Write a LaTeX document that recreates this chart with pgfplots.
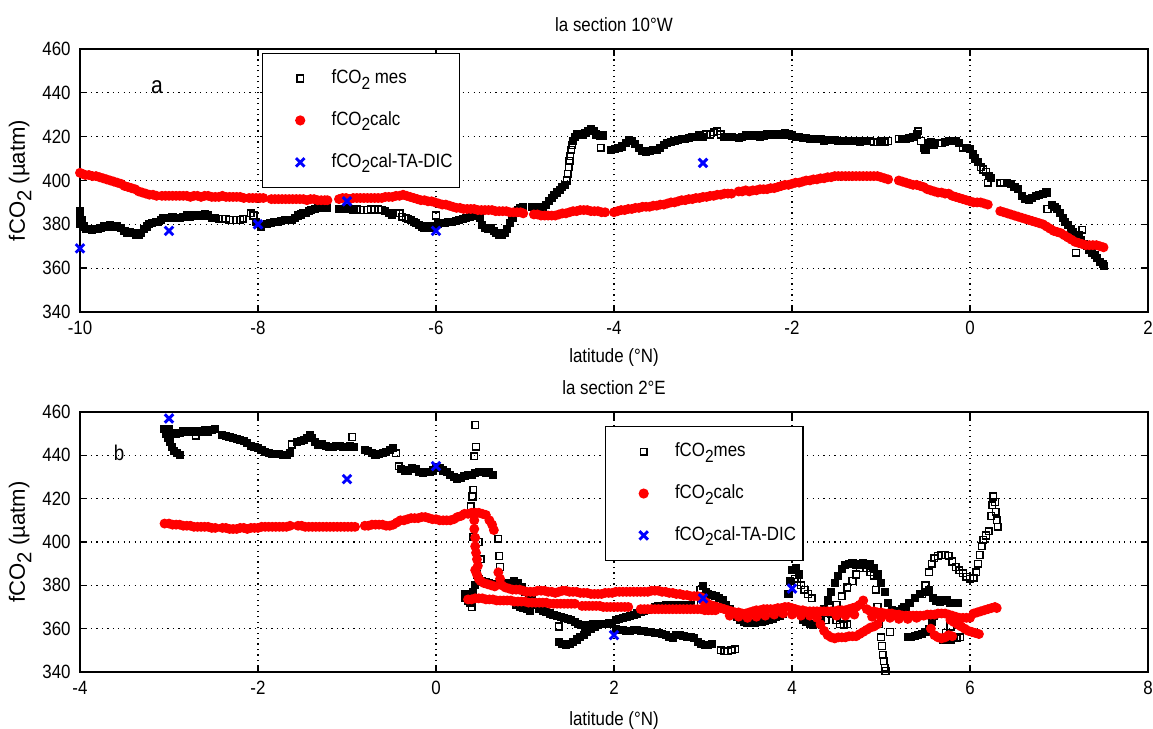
\documentclass[border=0pt]{standalone}
\usepackage{fontspec}
\setmainfont{Liberation Sans}[FakeStretch=0.88]
\newfontfamily\yfont{Liberation Sans}
\usepackage{pgfplots}
\pgfplotsset{compat=1.18}
\newcommand{\sub}[1]{\raisebox{-0.55ex}{\fontsize{6.6}{6.6}\selectfont #1}}
\newcommand{\ysub}[1]{\raisebox{-0.55ex}{\fontsize{7.6}{7.6}\selectfont #1}}
\pgfplotsset{
 mystyle/.style={
  scale only axis, width=400.5pt,
  ymin=340, ymax=460, ytick={340,360,...,460},
  grid=major,
  major grid style={black, line width=0.45pt, dash pattern=on 0.45pt off 1.6pt},
  axis line style={line width=0.6pt},
  tick style={black, line width=0.5pt},
  major tick length=2.5pt,
  tick align=inside,
  tick label style={font=\fontsize{7.2}{8}\selectfont},
  /pgf/number format/assume math mode=true,
  label style={font=\fontsize{7.2}{8}\selectfont},
  title style={font=\fontsize{7.2}{8}\selectfont},
  ylabel style={font=\yfont\fontsize{8.3}{9}\selectfont},
  legend cell align=left,
  legend image code/.code={\path (0pt,0pt) (19pt,0pt); \draw[##1] plot coordinates {(11pt,0pt)};},
  legend style={draw=black, line width=0.5pt, font=\fontsize{7.2}{8}\selectfont,
    row sep=5pt, column sep=1.5pt, inner xsep=3pt, inner ysep=4pt},
 },
 mes/.style={only marks, mark=square, mark size=1.25pt, black, mark options={line width=0.55pt}},
 mesd/.style={only marks, mark=square*, mark size=1.25pt, black, mark options={line width=0.55pt, fill=black}, forget plot},
 calc/.style={only marks, mark=*, mark size=1.65pt, red, mark options={draw=red, fill=red}},
 tadic/.style={only marks, mark=x, mark size=2.25pt, blue, mark options={line width=1.1pt}},
}
\begin{document}
\begin{tikzpicture}
% ---------------- top panel ----------------
\begin{axis}[mystyle, at={(30pt,156.375pt)}, anchor=south west, height=98.625pt,
  xmin=-10, xmax=2, xtick={-10,-8,...,2},
  title={la section 10°W},
  title style={at={(axis description cs:0.5,1.091)}, anchor=center, yshift=-6pt},
  xlabel={latitude (°N)},
  xlabel style={at={(axis description cs:0.5,-0.172)}, anchor=center},
  ylabel={fCO\ysub{2} (µatm)},
  ylabel style={at={(axis description cs:-0.056,0.5)}, anchor=center},
  legend style={at={(axis description cs:0.170,0.985)}, anchor=north west},
]
\addplot[mes] coordinates {
(-8.44,382.5) (-8.4,382.5) (-8.36,382.5) (-8.32,382) (-8.28,382) (-8.24,382) (-8.2,382) (-8.17,382.5) (-8.08,385) (-8.05,384)
(-6.89,387) (-6.85,386.5) (-6.81,386.5) (-6.77,386.5) (-6.73,387) (-6.69,386.5) (-6.65,387) (-6.61,386.5) (-6.45,385) (-6.41,385) (-6.38,383.5) (-6.34,383) (-6.31,382.5) (-6.0,384)
(-4.53,400) (-4.52,403) (-4.51,406) (-4.5,409) (-4.49,411) (-4.48,414) (-4.47,416) (-4.15,415)
(-2.96,421) (-2.92,421) (-2.88,422) (-2.84,422.5) (-2.8,421) (-1.12,418) (-1.08,417.5) (-1.04,417.5) (-0.96,417.5) (-0.92,418)
(-0.8,419) (-0.58,422.5) (-0.55,418) (-0.5,414) (-0.36,417) (-0.32,417) (-0.08,415) (0.12,406) (0.15,405) (0.18,404) (0.2,399) (0.34,399) (0.38,399) (0.87,387) (1.19,367) (1.26,377.5)
};
\addlegendentry{\makebox[43pt][l]{fCO\sub{2} mes}}
\addplot[mesd] coordinates {
(-10,386) (-10,383) (-10,380) (-9.98,382) (-9.96,379) (-9.93,378) (-9.9,378) (-9.87,377.5) (-9.84,378) (-9.8,378) (-9.77,378.5) (-9.73,379) (-9.7,379) (-9.66,379.5) (-9.62,379) (-9.58,379) (-9.54,378.5) (-9.5,377) (-9.47,376) (-9.44,376.5) (-9.4,376) (-9.37,375) (-9.34,375) (-9.31,376) (-9.28,378) (-9.25,379) (-9.22,380) (-9.19,380.5) (-9.15,381) (-9.12,381) (-9.09,382) (-9.07,383) (-9.04,383) (-9.0,383) (-8.96,383.5) (-8.92,383) (-8.88,383) (-8.84,383.5) (-8.8,384) (-8.76,383.5) (-8.72,384) (-8.68,384) (-8.64,384) (-8.6,384.5) (-8.56,384) (-8.52,383) (-8.48,383)
(-8.02,381) (-8.0,380) (-7.97,379)
(-7.9,380) (-7.86,380.5) (-7.82,381) (-7.78,381) (-7.74,381.5) (-7.7,382) (-7.66,382) (-7.62,382) (-7.58,383) (-7.55,384) (-7.52,384.5) (-7.49,385) (-7.46,385) (-7.43,386) (-7.4,386.5) (-7.36,387) (-7.33,387.5) (-7.3,387.5) (-7.26,387.5) (-7.23,387.5)
(-7.09,387) (-7.05,387) (-7.01,387.5) (-6.97,387) (-6.93,386.5) (-6.57,386) (-6.53,385) (-6.49,384.5) (-6.28,382) (-6.25,381) (-6.22,380.5) (-6.19,379.5) (-6.16,379) (-6.13,378.5) (-6.1,379) (-6.06,378.5) (-6.02,379) (-5.98,380) (-5.94,380.5) (-5.9,380.5) (-5.86,381) (-5.82,381) (-5.78,381.5) (-5.74,382) (-5.7,382.5) (-5.66,383) (-5.62,383.5) (-5.58,384) (-5.54,385) (-5.51,383) (-5.48,379.5) (-5.45,378.5) (-5.42,378) (-5.38,378.5) (-5.35,377) (-5.32,376) (-5.29,375) (-5.26,375) (-5.23,376) (-5.2,378) (-5.17,380.5) (-5.14,383) (-5.11,385) (-5.08,386.5) (-5.05,387.5) (-5.02,388)
(-4.92,388) (-4.88,388) (-4.84,388) (-4.8,388) (-4.76,389) (-4.73,390.5) (-4.7,392) (-4.67,393.5) (-4.64,394.5) (-4.61,395.5) (-4.58,397) (-4.55,398) (-4.46,418) (-4.44,420) (-4.41,421) (-4.38,421) (-4.35,421) (-4.32,421.5) (-4.29,422.5) (-4.26,423.5) (-4.23,422.5) (-4.2,421) (-4.16,420.5) (-4.13,420.5)
(-4.03,414) (-3.99,414.5) (-3.95,415) (-3.91,415.5) (-3.87,417) (-3.83,418.5) (-3.8,418) (-3.76,416.5) (-3.72,415) (-3.68,413.5) (-3.64,413) (-3.6,413.5) (-3.56,414) (-3.52,414) (-3.48,415) (-3.44,416) (-3.4,417) (-3.36,417.5) (-3.32,418) (-3.28,418.5) (-3.24,419) (-3.2,419) (-3.16,419.5) (-3.12,420) (-3.08,420) (-3.04,420.5) (-3.0,420) (-2.76,420) (-2.72,420) (-2.68,420)
(-2.6,419.5) (-2.56,420) (-2.52,420.5) (-2.48,420.5) (-2.44,420.5) (-2.4,420.5) (-2.36,420) (-2.32,420.5) (-2.28,421) (-2.24,421) (-2.2,421) (-2.16,421) (-2.12,421) (-2.08,421.5) (-2.04,421) (-2.0,420.5) (-1.96,420) (-1.92,420) (-1.88,419.5) (-1.84,419.5) (-1.8,419) (-1.76,419) (-1.72,419) (-1.68,419) (-1.64,418) (-1.6,418.5) (-1.56,418.5) (-1.52,418.5) (-1.48,418) (-1.44,418) (-1.4,418) (-1.36,418) (-1.32,418) (-1.28,418) (-1.24,417.5) (-1.2,418) (-1.16,418) (-1.0,418)
(-0.76,419) (-0.72,419) (-0.68,419.5) (-0.64,420) (-0.6,421) (-0.52,415) (-0.47,417) (-0.44,417.5) (-0.4,416) (-0.28,417.5) (-0.24,418) (-0.2,418) (-0.16,418) (-0.12,417) (-0.04,415) (0.0,414.5) (0.03,412) (0.06,410) (0.09,408.5) (0.21,402) (0.24,401)
(0.42,399) (0.46,398.5) (0.5,397) (0.54,396) (0.58,393) (0.62,391.5) (0.66,391) (0.7,392) (0.74,393) (0.78,393.5) (0.82,394) (0.86,394.5) (0.92,389) (0.95,388) (0.98,387) (1.01,385) (1.04,383) (1.07,381) (1.1,379.5) (1.13,378) (1.16,376.5) (1.22,375) (1.25,373) (1.28,371) (1.31,370) (1.34,368.5) (1.37,367) (1.4,366) (1.43,364.5) (1.46,363) (1.49,362) (1.51,361)
};
\addplot[calc] coordinates {
(-10,403.5) (-9.97,403) (-9.94,402.5) (-9.9,402.5) (-9.86,402) (-9.82,402) (-9.78,401.5) (-9.74,401) (-9.7,400.5) (-9.66,400) (-9.62,399.5) (-9.58,399) (-9.54,398.5) (-9.5,397.5) (-9.46,397) (-9.42,396.5) (-9.38,396) (-9.34,395) (-9.3,394.5) (-9.26,394) (-9.22,393.5) (-9.18,393.5) (-9.14,393) (-9.08,393) (-9.04,393) (-9.0,393) (-8.96,393) (-8.92,393) (-8.88,393) (-8.84,393) (-8.8,393) (-8.76,392.5) (-8.72,393) (-8.68,393) (-8.64,392.5) (-8.6,393) (-8.56,393) (-8.52,392.5) (-8.48,392.5) (-8.44,392.5) (-8.4,393) (-8.36,392.5) (-8.32,392.5) (-8.28,392.5) (-8.24,392.5) (-8.2,392.5) (-8.16,392)
(-8.1,392) (-8.06,392) (-8.02,392) (-7.98,392) (-7.94,392)
(-7.85,391.5) (-7.81,391.5) (-7.77,391.5) (-7.73,391.5) (-7.69,391.5) (-7.65,391.5) (-7.61,391.5) (-7.57,391.5) (-7.53,391.5) (-7.49,391.5) (-7.45,391) (-7.41,391.5) (-7.37,391.5) (-7.33,391) (-7.29,391) (-7.25,391) (-7.22,391)
(-7.09,391.5) (-7.05,392) (-7.01,392) (-6.97,391.5) (-6.93,392) (-6.89,392) (-6.85,392) (-6.81,392) (-6.77,392) (-6.73,392) (-6.69,392) (-6.65,392) (-6.61,392) (-6.57,392.5) (-6.53,392.5) (-6.49,392.5) (-6.45,393) (-6.41,393) (-6.37,393.5) (-6.33,393) (-6.29,392.5) (-6.25,392) (-6.21,391.5) (-6.17,391) (-6.13,391) (-6.09,390.5) (-6.05,390.5) (-6.01,390) (-5.97,389.5) (-5.93,389) (-5.89,389) (-5.85,388.5) (-5.81,388) (-5.77,387.5) (-5.73,387.5) (-5.69,387) (-5.65,387) (-5.61,387) (-5.57,387) (-5.53,386.5) (-5.49,386.5) (-5.45,386.5) (-5.41,386.5) (-5.37,386.5) (-5.33,386) (-5.29,386) (-5.25,386) (-5.21,386) (-5.17,385.5) (-5.13,385.5) (-5.09,385.5) (-5.05,385.5) (-5.02,385)
(-4.9,384.5) (-4.86,384.5) (-4.82,384) (-4.78,384) (-4.74,384) (-4.7,384) (-4.66,384) (-4.62,384.5) (-4.58,385) (-4.54,385) (-4.5,385.5) (-4.46,386) (-4.42,386) (-4.38,386.5) (-4.34,386.5) (-4.3,386.5) (-4.26,386) (-4.22,386) (-4.18,386) (-4.14,385.5) (-4.1,385.5)
(-4.0,385.5) (-3.96,386) (-3.92,386.5) (-3.88,386.5) (-3.84,387) (-3.8,387) (-3.76,387.5) (-3.72,387.5) (-3.68,388) (-3.64,388) (-3.6,388) (-3.56,388.5) (-3.52,388.5) (-3.48,389) (-3.44,389) (-3.4,389.5) (-3.36,390) (-3.32,390) (-3.28,390.5) (-3.24,391) (-3.2,391) (-3.16,391.5) (-3.12,391.5) (-3.08,392) (-3.04,392) (-3.0,392.5) (-2.96,392.5) (-2.92,393) (-2.88,393) (-2.84,393.5) (-2.8,393.5) (-2.76,394) (-2.72,394) (-2.68,394)
(-2.6,395) (-2.56,395) (-2.52,395.5) (-2.48,395) (-2.44,395.5) (-2.4,395.5) (-2.36,396) (-2.32,396) (-2.28,396) (-2.24,396.5) (-2.2,396.5) (-2.16,397) (-2.12,397.5) (-2.08,398) (-2.04,398) (-2.0,398.5) (-1.96,399) (-1.92,399) (-1.88,399.5) (-1.84,400) (-1.8,400) (-1.76,400.5) (-1.72,400.5) (-1.68,401) (-1.64,401) (-1.6,401.5) (-1.56,401.5) (-1.52,402) (-1.48,402) (-1.44,402) (-1.4,402) (-1.36,402) (-1.32,402) (-1.28,402) (-1.24,402) (-1.2,402) (-1.16,402) (-1.12,402) (-1.08,402) (-1.04,402) (-1.0,401.5) (-0.96,401) (-0.92,400.5)
(-0.8,400) (-0.76,399.5) (-0.72,399) (-0.68,398.5) (-0.64,398) (-0.6,398) (-0.56,397.5) (-0.52,397) (-0.48,396) (-0.44,395.5) (-0.4,395) (-0.36,394.5) (-0.32,394.5) (-0.28,394) (-0.24,394) (-0.2,393) (-0.16,392.5) (-0.12,392) (-0.08,391.5) (-0.04,391) (0.0,390.5) (0.04,390) (0.08,390) (0.12,390) (0.16,389.5) (0.2,389)
(0.34,386) (0.38,385.5) (0.42,385) (0.46,384.5) (0.5,384) (0.54,383.5) (0.58,383) (0.62,382.5) (0.66,382) (0.7,381.5) (0.74,381) (0.78,380.5) (0.82,380) (0.86,379) (0.9,378) (0.94,377) (0.98,376.5) (1.02,376) (1.06,375) (1.1,374) (1.14,373) (1.18,372) (1.22,371.5) (1.26,371) (1.3,370.5) (1.34,370.5) (1.38,370.5) (1.42,370.5) (1.46,370) (1.5,369.5)
};
\addlegendentry{\makebox[43pt][l]{fCO\sub{2}calc}}
\addplot[tadic] coordinates {(-10,369) (-9,377) (-8,380) (-7,390.5) (-6,377) (-3,408)};
\addlegendentry{\makebox[43pt][l]{fCO\sub{2}cal-TA-DIC}}
\node[font=\fontsize{9}{10}\selectfont] at (axis description cs:0.072,0.855) {a};
\end{axis}
% ---------------- bottom panel ----------------
\begin{axis}[mystyle, at={(30pt,21.375pt)}, anchor=south west, height=97.5pt,
  xmin=-4, xmax=8, xtick={-4,-2,...,8},
  title={la section 2°E},
  title style={at={(axis description cs:0.5,1.092)}, anchor=center, yshift=-6pt},
  xlabel={latitude (°N)},
  xlabel style={at={(axis description cs:0.5,-0.188)}, anchor=center},
  ylabel={fCO\ysub{2} (µatm)},
  ylabel style={at={(axis description cs:-0.056,0.5)}, anchor=center},
  legend style={at={(axis description cs:0.4916,0.946)}, anchor=north west},
]
\addplot[mes] coordinates {
(-2.7,449) (-1.62,445) (-0.94,448.5) (-0.45,441) (-0.42,435)
(0.44,454) (0.45,444) (0.43,439.5) (0.42,424) (0.41,421) (0.39,416.5) (0.42,402.5) (0.48,400) (0.5,392) (0.7,401.5) (0.71,393.5) (0.72,388.5) (0.4,370) (1.38,361) (0.46,385) (0.48,383)
(3.2,350) (3.24,349.5) (3.28,349.5) (3.32,350) (3.36,350.5)
(2.9,372) (2.94,375) (2.97,378)
(4.03,383) (4.06,381.5) (4.1,380) (4.14,378) (4.18,376) (4.22,374)
(4.38,364) (4.44,367) (4.5,371) (4.56,375) (4.62,379) (4.68,382) (4.72,385) (4.76,388) (4.8,389.5) (4.84,388) (4.88,386) (4.92,384.5) (4.94,378) (4.96,370) (4.98,362) (5.0,356) (5.01,352) (5.02,348) (5.03,345) (5.04,342) (5.05,340.5)
(4.5,364) (4.54,362) (4.58,361.5) (4.62,362) (5.1,358.5)
(5.46,376) (5.5,380) (5.54,386) (5.57,390) (5.6,392.5) (5.64,393.5) (5.68,394) (5.72,394) (5.76,393.5) (5.8,391) (5.84,388.5) (5.88,387) (5.92,385.5) (5.96,384) (6.0,383) (6.04,383.5) (6.07,386) (6.09,390) (6.11,394) (6.13,398) (6.15,401) (6.18,403) (6.21,405) (6.24,412) (6.25,417) (6.26,421) (6.28,418.5) (6.29,414) (6.3,410) (6.31,407)
(5.73,358) (5.77,356.5) (5.81,355.5) (5.85,355.5) (5.89,356) (5.78,361)
};
\addlegendentry{\makebox[43pt][l]{fCO\sub{2}mes}}
\addplot[mesd] coordinates {
(-3.05,452) (-3.03,450) (-3.01,448) (-2.99,446) (-2.97,444) (-2.94,442) (-2.91,441) (-2.88,440) (-3.0,452) (-2.96,450.5) (-2.92,450) (-2.88,450.5) (-2.84,451) (-2.8,451) (-2.76,451) (-2.72,451) (-2.68,451) (-2.64,451) (-2.6,451.5) (-2.56,451) (-2.52,451.5) (-2.48,452)
(-2.4,449.5) (-2.36,449) (-2.32,448.5) (-2.28,448) (-2.24,447.5) (-2.2,447) (-2.16,446.5) (-2.12,445.5) (-2.08,444.5) (-2.04,444) (-2.0,443.5) (-1.96,442.5) (-1.92,441.5) (-1.88,441) (-1.84,440.5) (-1.8,440.5) (-1.76,440.5) (-1.72,440) (-1.68,440) (-1.64,441)
(-1.56,446) (-1.52,446.5) (-1.48,447) (-1.45,448) (-1.42,449.5) (-1.39,448) (-1.36,446) (-1.32,445) (-1.28,445) (-1.24,444.5) (-1.2,444) (-1.16,444) (-1.12,444.5) (-1.08,444.5) (-1.04,444) (-1.0,444) (-0.97,444.5) (-0.92,444)
(-0.8,442.5) (-0.76,442) (-0.72,441) (-0.68,440) (-0.64,440.5) (-0.6,441) (-0.56,441.5) (-0.52,442.5) (-0.48,443.5)
(-0.39,433.5) (-0.35,433) (-0.31,433) (-0.27,434) (-0.23,433.5) (-0.19,432.5) (-0.15,432) (-0.11,432.5) (-0.07,432.5) (-0.03,433) (0.0,434.5) (0.04,434) (0.08,433) (0.12,432.5) (0.16,431) (0.2,430) (0.24,429) (0.28,429.5) (0.32,430.5) (0.36,431) (0.4,431) (0.44,432) (0.48,432.5) (0.52,432.5) (0.56,432) (0.6,432.5) (0.64,431)
(0.33,376) (0.33,374) (0.36,373) (0.38,372) (0.4,375) (0.42,377) (0.44,380) (0.52,382) (0.56,381.5) (0.6,381) (0.64,380.5) (0.68,380) (0.72,380) (0.76,380) (0.8,381) (0.84,381) (0.88,382) (0.92,381) (0.96,379) (1.0,377) (1.04,375) (1.08,373) (1.12,371) (1.16,369) (1.2,368) (1.24,367.5) (1.28,367) (1.32,366.5) (1.36,366) (1.4,365.5) (1.44,365) (1.48,364.5) (1.52,364)
(0.9,371) (0.94,370) (0.98,369.5) (1.02,369) (1.06,368)
(1.38,354) (1.42,353) (1.46,352.5) (1.5,353) (1.54,354) (1.58,355) (1.62,356) (1.66,357) (1.7,358.5) (1.74,360) (1.78,361) (1.82,361.5) (1.86,362) (1.9,362) (1.94,362.5) (1.98,362)
(1.56,363) (1.6,362) (1.64,361.5) (1.68,361) (1.72,361.5) (1.76,362)
(2.02,364) (2.06,364.5) (2.1,365) (2.14,365.5) (2.18,366) (2.22,366.5) (2.26,367) (2.3,367.5) (2.34,368) (2.38,368.5) (2.42,369) (2.46,370) (2.5,370.5) (2.54,370.5) (2.58,371) (2.62,371) (2.66,371) (2.7,371) (2.74,370.5) (2.78,371) (2.82,371) (2.86,371) (3.0,379.5) (3.03,377) (3.06,376) (3.1,375.5) (3.14,375) (3.18,374) (3.22,373) (3.26,371) (3.3,369) (3.34,367) (3.38,365.5) (3.42,364) (3.46,363) (3.5,362.5) (3.54,362.5) (3.58,362.5) (3.62,363) (3.66,363) (3.7,363.5) (3.74,364) (3.78,364.5) (3.82,365.5) (3.86,366) (3.9,367) (3.93,370) (3.96,376) (3.98,382) (4.0,387) (4.04,388) (4.08,385)
(4.12,364) (4.16,363) (4.2,362) (4.24,361.5) (4.28,362) (4.32,365) (4.36,369) (4.4,373) (4.44,377) (4.48,381) (4.52,384.5) (4.56,387.5) (4.6,389.5) (4.64,390) (4.68,390.5) (4.72,389.5) (4.76,390) (4.8,390.5) (4.84,390) (4.88,390) (4.92,388) (4.96,385) (5.0,381) (5.04,377) (5.08,372) (5.12,368.5) (5.16,367) (5.2,368) (5.24,369) (5.28,370)
(5.3,356) (5.34,356) (5.38,356.5) (5.42,357) (5.46,357.5) (5.5,358.5) (5.54,360) (5.57,363) (5.6,366)
(5.14,366) (5.2,368) (5.26,370) (5.32,372) (5.38,374) (5.44,376) (5.5,377) (5.54,378) (5.58,374) (5.62,373) (5.66,372.5) (5.7,373) (5.74,373) (5.78,372) (5.82,372) (5.86,372)
(5.7,355) (5.74,355) (5.78,355) (5.82,355.5)
(2.02,360) (2.06,359.5) (2.1,359.5) (2.14,359) (2.18,359) (2.22,359.5) (2.26,359.5) (2.3,359) (2.34,359) (2.38,358.5) (2.42,358.5) (2.46,358) (2.5,358) (2.54,357.5) (2.58,357) (2.62,356) (2.66,355.5) (2.7,357) (2.74,357) (2.78,356.5) (2.82,356) (2.86,356) (2.9,355.5) (2.94,354) (2.98,353) (3.02,352.5) (3.06,352.5) (3.1,353)
};
\addplot[calc] coordinates {
(-3.05,408.5) (-3.0,408.5) (-2.96,408) (-2.92,408) (-2.88,408) (-2.84,407.5) (-2.8,407.5) (-2.76,407.5) (-2.72,407) (-2.68,407) (-2.64,407) (-2.6,407) (-2.56,407) (-2.52,406.5) (-2.48,406.5)
(-2.4,406.5) (-2.36,406.5) (-2.32,406) (-2.28,406) (-2.24,406) (-2.2,406.5) (-2.16,406.5) (-2.12,406) (-2.08,406.5) (-2.04,406.5) (-2.0,406.5) (-1.96,407) (-1.92,407) (-1.88,407) (-1.84,407) (-1.8,407) (-1.76,407) (-1.72,407) (-1.68,407) (-1.64,407.5)
(-1.55,407.5) (-1.51,407.5) (-1.47,407) (-1.43,407) (-1.39,407) (-1.35,407) (-1.31,407) (-1.27,407) (-1.23,407) (-1.19,407) (-1.15,407) (-1.11,407) (-1.07,407) (-1.03,407) (-0.99,407) (-0.95,407) (-0.91,407)
(-0.8,407.5) (-0.76,407.5) (-0.72,408) (-0.68,408) (-0.64,408) (-0.6,408) (-0.56,407.5) (-0.52,407.5) (-0.48,408) (-0.44,409) (-0.4,410) (-0.36,410) (-0.32,410.5) (-0.28,411) (-0.24,411) (-0.2,411) (-0.16,411.5) (-0.12,411.5) (-0.08,411) (-0.04,410.5) (0.0,410.5) (0.04,410) (0.08,410) (0.12,410) (0.16,410) (0.2,410.5) (0.24,411.5) (0.28,412) (0.32,413) (0.36,413) (0.4,413.5) (0.44,413.5) (0.48,413.5) (0.52,413) (0.56,412.5) (0.6,410) (0.63,408) (0.65,405.5)
(0.43,410) (0.43,406) (0.44,402) (0.44,398) (0.45,395) (0.46,392) (0.47,389)
(0.44,387) (0.46,385) (0.48,383) (0.5,382) (0.54,381) (0.58,380.5) (0.62,380) (0.66,379.5) (0.7,386) (0.72,383) (0.74,380) (0.78,379) (0.82,378.5) (0.86,378) (0.9,378) (0.94,378) (0.98,377.5) (1.02,377) (1.06,377) (1.1,377)
(1.14,377.5) (1.18,377.5) (1.22,377.5) (1.26,377) (1.3,377) (1.34,376.5) (1.38,377) (1.42,377.5) (1.46,377.5) (1.5,377) (1.54,377) (1.58,377) (1.62,376.5) (1.66,376.5) (1.7,376.5) (1.74,376) (1.78,376) (1.82,376) (1.86,376) (1.9,376.5) (1.94,376.5) (1.98,376.5) (2.02,377) (2.06,377) (2.1,377) (2.14,377) (2.18,377) (2.22,377) (2.26,377) (2.3,377) (2.34,377) (2.38,377) (2.42,377.5) (2.46,377.5) (2.5,377.5) (2.54,377) (2.58,377) (2.62,376.5) (2.66,376.5) (2.7,376) (2.74,376) (2.78,375.5) (2.82,375.5) (2.86,375) (2.9,375) (2.94,375) (2.98,374.5)
(0.36,373.5) (0.4,373.5) (0.44,374) (0.48,374) (0.52,374) (0.56,373.5) (0.6,373.5) (0.64,373.5) (0.68,373) (0.72,373) (0.76,373) (0.8,373) (0.84,373) (0.88,372.5) (0.92,372.5) (0.96,372.5) (1.0,372.5) (1.04,372) (1.08,372) (1.12,372) (1.16,372) (1.2,372) (1.24,372) (1.28,371.5) (1.32,371.5) (1.36,371.5) (1.4,371.5) (1.44,371.5) (1.48,371.5) (1.52,371.5) (1.56,371.5)
(1.64,370.5) (1.68,370.5) (1.72,370.5) (1.76,370.5) (1.8,370.5) (1.84,370.5) (1.88,370) (1.92,370) (1.96,370) (2.0,370) (2.04,370) (2.08,370) (2.12,370) (2.16,370)
(2.3,369) (2.34,369) (2.38,369) (2.42,369) (2.46,369) (2.5,369) (2.54,369) (2.58,369) (2.62,369) (2.66,369) (2.7,369) (2.74,369) (2.78,369) (2.82,369) (2.86,369) (2.9,369) (2.94,369) (2.98,369) (3.02,368.5) (3.06,368.5) (3.1,368.5) (3.14,368.5)
(3.0,373) (3.04,372) (3.08,371) (3.12,370.5) (3.16,370) (3.2,369.5) (3.24,369) (3.28,368.5) (3.32,368) (3.36,367.5) (3.4,367.5) (3.44,367) (3.48,367) (3.52,367.5) (3.56,368) (3.6,368.5) (3.64,368.5) (3.68,369) (3.72,369) (3.76,369) (3.8,369) (3.84,369.5) (3.88,369.5) (3.92,370) (3.96,370) (4.0,369.5) (4.04,369) (4.08,368.5) (4.12,368.5) (4.16,368) (4.2,368) (4.24,368) (4.28,368) (4.32,368) (4.36,368) (4.4,368) (4.44,368) (4.48,368) (4.52,368.5) (4.56,368.5) (4.6,368.5) (4.64,369) (4.68,369.5) (4.72,370) (4.76,371) (4.8,373) (4.84,369) (4.88,368) (4.92,368) (4.96,367.5) (5.0,367.5) (5.04,367) (5.08,367) (5.12,367) (5.16,366.5) (5.2,366.5) (5.24,366) (5.28,366) (5.32,366) (5.36,366) (5.4,366) (5.44,366) (5.48,366) (5.52,366.5) (5.56,366.5) (5.6,366.5) (5.64,367) (5.68,367) (5.72,367) (5.76,366.5) (5.8,366) (5.84,365.5) (5.88,365) (5.92,365) (5.96,365) (6.0,365)
(3.3,366) (3.4,365.5) (3.5,365) (3.6,365.5) (3.7,366) (3.8,366.5) (3.9,367) (4.0,366.5) (4.1,366) (4.2,366) (4.5,366) (4.6,366) (4.7,366.5) (4.9,365.5) (5.0,365) (5.1,365) (5.2,364.5) (5.3,364.5) (5.4,365)
(4.24,367) (4.28,365) (4.32,362) (4.36,359) (4.4,357) (4.44,356) (4.48,355.5) (4.52,356) (4.56,356) (4.6,356) (4.64,356.5) (4.68,356.5) (4.72,356.5) (4.76,357.5) (4.8,358.5) (4.84,359.5) (4.88,360.5) (4.92,361) (4.96,362)
(5.56,360) (5.6,357) (5.64,356) (5.68,355.5) (5.72,356) (5.76,357) (5.8,356.5)
(5.78,364) (5.82,363) (5.86,362) (5.9,361) (5.94,360) (5.98,359) (6.02,358.5) (6.06,358) (6.1,357.5)
(6.04,367) (6.08,367.5) (6.12,368) (6.16,368.5) (6.2,369) (6.24,369.5) (6.28,370) (6.3,369.5)
};
\addlegendentry{\makebox[43pt][l]{fCO\sub{2}calc}}
\addplot[tadic] coordinates {(-3,457) (-1,429) (0,435) (2,357) (3,374) (4,378.5)};
\addlegendentry{\makebox[43pt][l]{fCO\sub{2}cal-TA-DIC}}
\node[font=\fontsize{8}{9}\selectfont] at (axis description cs:0.0365,0.842) {b};
\end{axis}
\pgfresetboundingbox
\path[use as bounding box] (0,0) rectangle (432.375pt,273.375pt);
\end{tikzpicture}
\end{document}
